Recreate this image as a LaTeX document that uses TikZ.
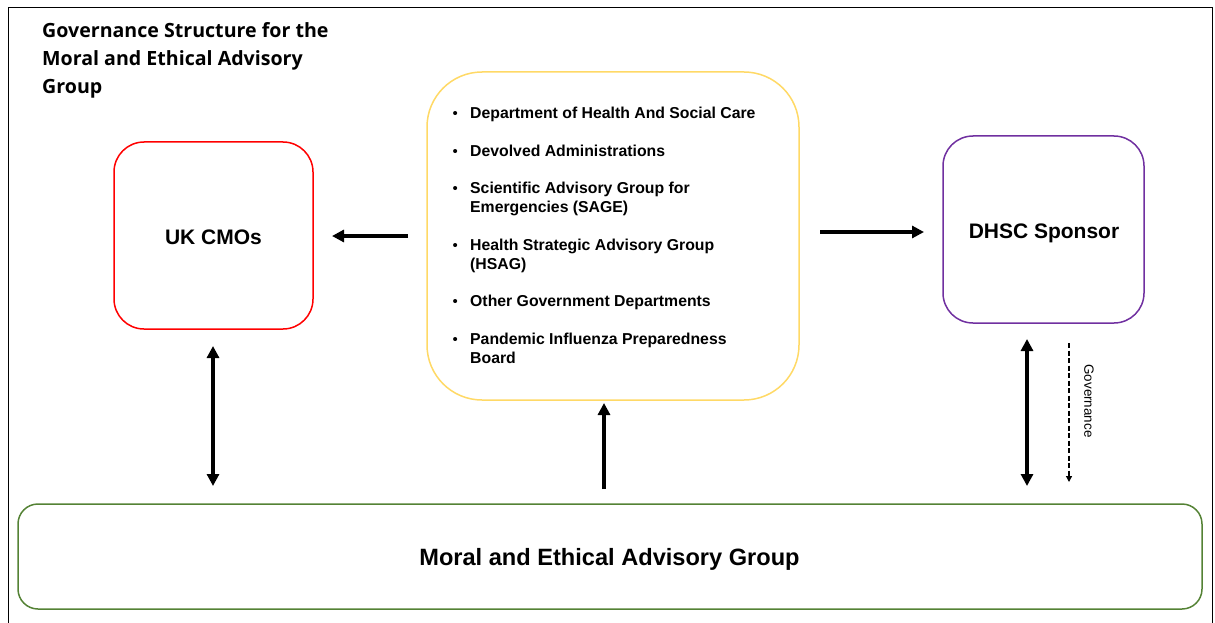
\documentclass[tikz,border=0pt]{standalone}
\usepackage{fontspec}
\setmainfont{Liberation Sans}
\newfontfamily\titlefont{Open Sans}
\usetikzlibrary{arrows.meta}
\definecolor{cmored}{HTML}{FF0000}
\definecolor{listgold}{HTML}{FFD966}
\definecolor{sponsorpurple}{HTML}{7030A0}
\definecolor{groupgreen}{HTML}{548235}
\tikzset{
  box/.style={draw, line width=1.5pt, inner sep=0pt},
  boxlabel/.style={inner sep=0pt, anchor=base, font=\bfseries\fontsize{21}{25}\selectfont},
  bigarrow/.style={line width=3.5pt, -{Triangle[length=12pt,width=12pt]}},
  dblarrow/.style={line width=3.5pt, {Triangle[length=12pt,width=12pt]}-{Triangle[length=12pt,width=12pt]}},
  govarrow/.style={line width=1.3pt, dashed, dash pattern=on 5pt off 2.5pt, -{Triangle[length=6pt,width=6pt]}},
}
\newcommand{\blt}{\makebox[18pt]{\mdseries\fontsize{15}{19}\selectfont\textbullet}}
\begin{document}
\begin{tikzpicture}[x=1pt,y=-1pt]
\useasboundingbox (0,0) rectangle (1215,623);
% frame (bottom edge outside the picture)
\draw[line width=1pt] (8.5,640) -- (8.5,7.5) -- (1212.5,7.5) -- (1212.5,640);
% title
\node[anchor=base west, align=left, inner sep=0pt, font=\titlefont\bfseries\fontsize{19.6}{28}\selectfont] (title) at (42,94)
  {Governance Structure for the\\Moral and Ethical Advisory\\Group};
% boxes
\node[box, draw=cmored, rounded corners=30pt, minimum width=199pt, minimum height=187pt] (cmo) at (213.5,235.5) {};
\node[boxlabel] (cmolabel) at (213.5,244.5) {UK CMOs};
\node[box, draw=listgold, rounded corners=55pt, minimum width=372pt, minimum height=328pt] (list) at (613,236) {};
\node[box, draw=sponsorpurple, rounded corners=30pt, minimum width=201pt, minimum height=187pt] (dhsc) at (1043.5,229.5) {};
\node[boxlabel] (dhsclabel) at (1044,238.5) {DHSC Sponsor};
\node[box, draw=groupgreen, rounded corners=20pt, minimum width=1184pt, minimum height=105pt] (meag) at (610,556.5) {};
\node[boxlabel, font=\bfseries\fontsize{23.6}{28}\selectfont] (meaglabel) at (609.5,565.5) {Moral and Ethical Advisory Group};
% list content
\node[anchor=west, inner sep=0pt, font=\bfseries\fontsize{15.8}{19}\selectfont] (items) at (446,237)
{\begin{tabular}{@{}l@{\hspace{6pt}}l@{}}
\blt & Department of Health And Social Care\\[18.5pt]
\blt & Devolved Administrations\\[18.5pt]
\blt & Scientific Advisory Group for\\
 & Emergencies (SAGE)\\[18.5pt]
\blt & Health Strategic Advisory Group\\
 & (HSAG)\\[18.5pt]
\blt & Other Government Departments\\[18.5pt]
\blt & Pandemic Influenza Preparedness\\
 & Board
\end{tabular}};
% connector end points
\coordinate (lA) at (408,236);
\coordinate (lB) at (332,236);
\coordinate (rA) at (820,232);
\coordinate (rB) at (924,232);
\coordinate (uA) at (604,489);
\coordinate (uB) at (604,403);
\coordinate (cA) at (213,346);
\coordinate (cB) at (213,486);
\coordinate (dA) at (1027,339);
\coordinate (dB) at (1027,486);
\coordinate (gA) at (1069,343);
\coordinate (gB) at (1069,482);
\draw[bigarrow] (lA) -- (lB);
\draw[bigarrow] (rA) -- (rB);
\draw[bigarrow] (uA) -- (uB);
\draw[dblarrow] (cA) -- (cB);
\draw[dblarrow] (dA) -- (dB);
\draw[govarrow] (gA) -- (gB);
\node[rotate=-90, inner sep=0pt, font=\fontsize{13.4}{15}\selectfont] (govlabel) at (1089,401) {Governance};
\end{tikzpicture}
\end{document}
